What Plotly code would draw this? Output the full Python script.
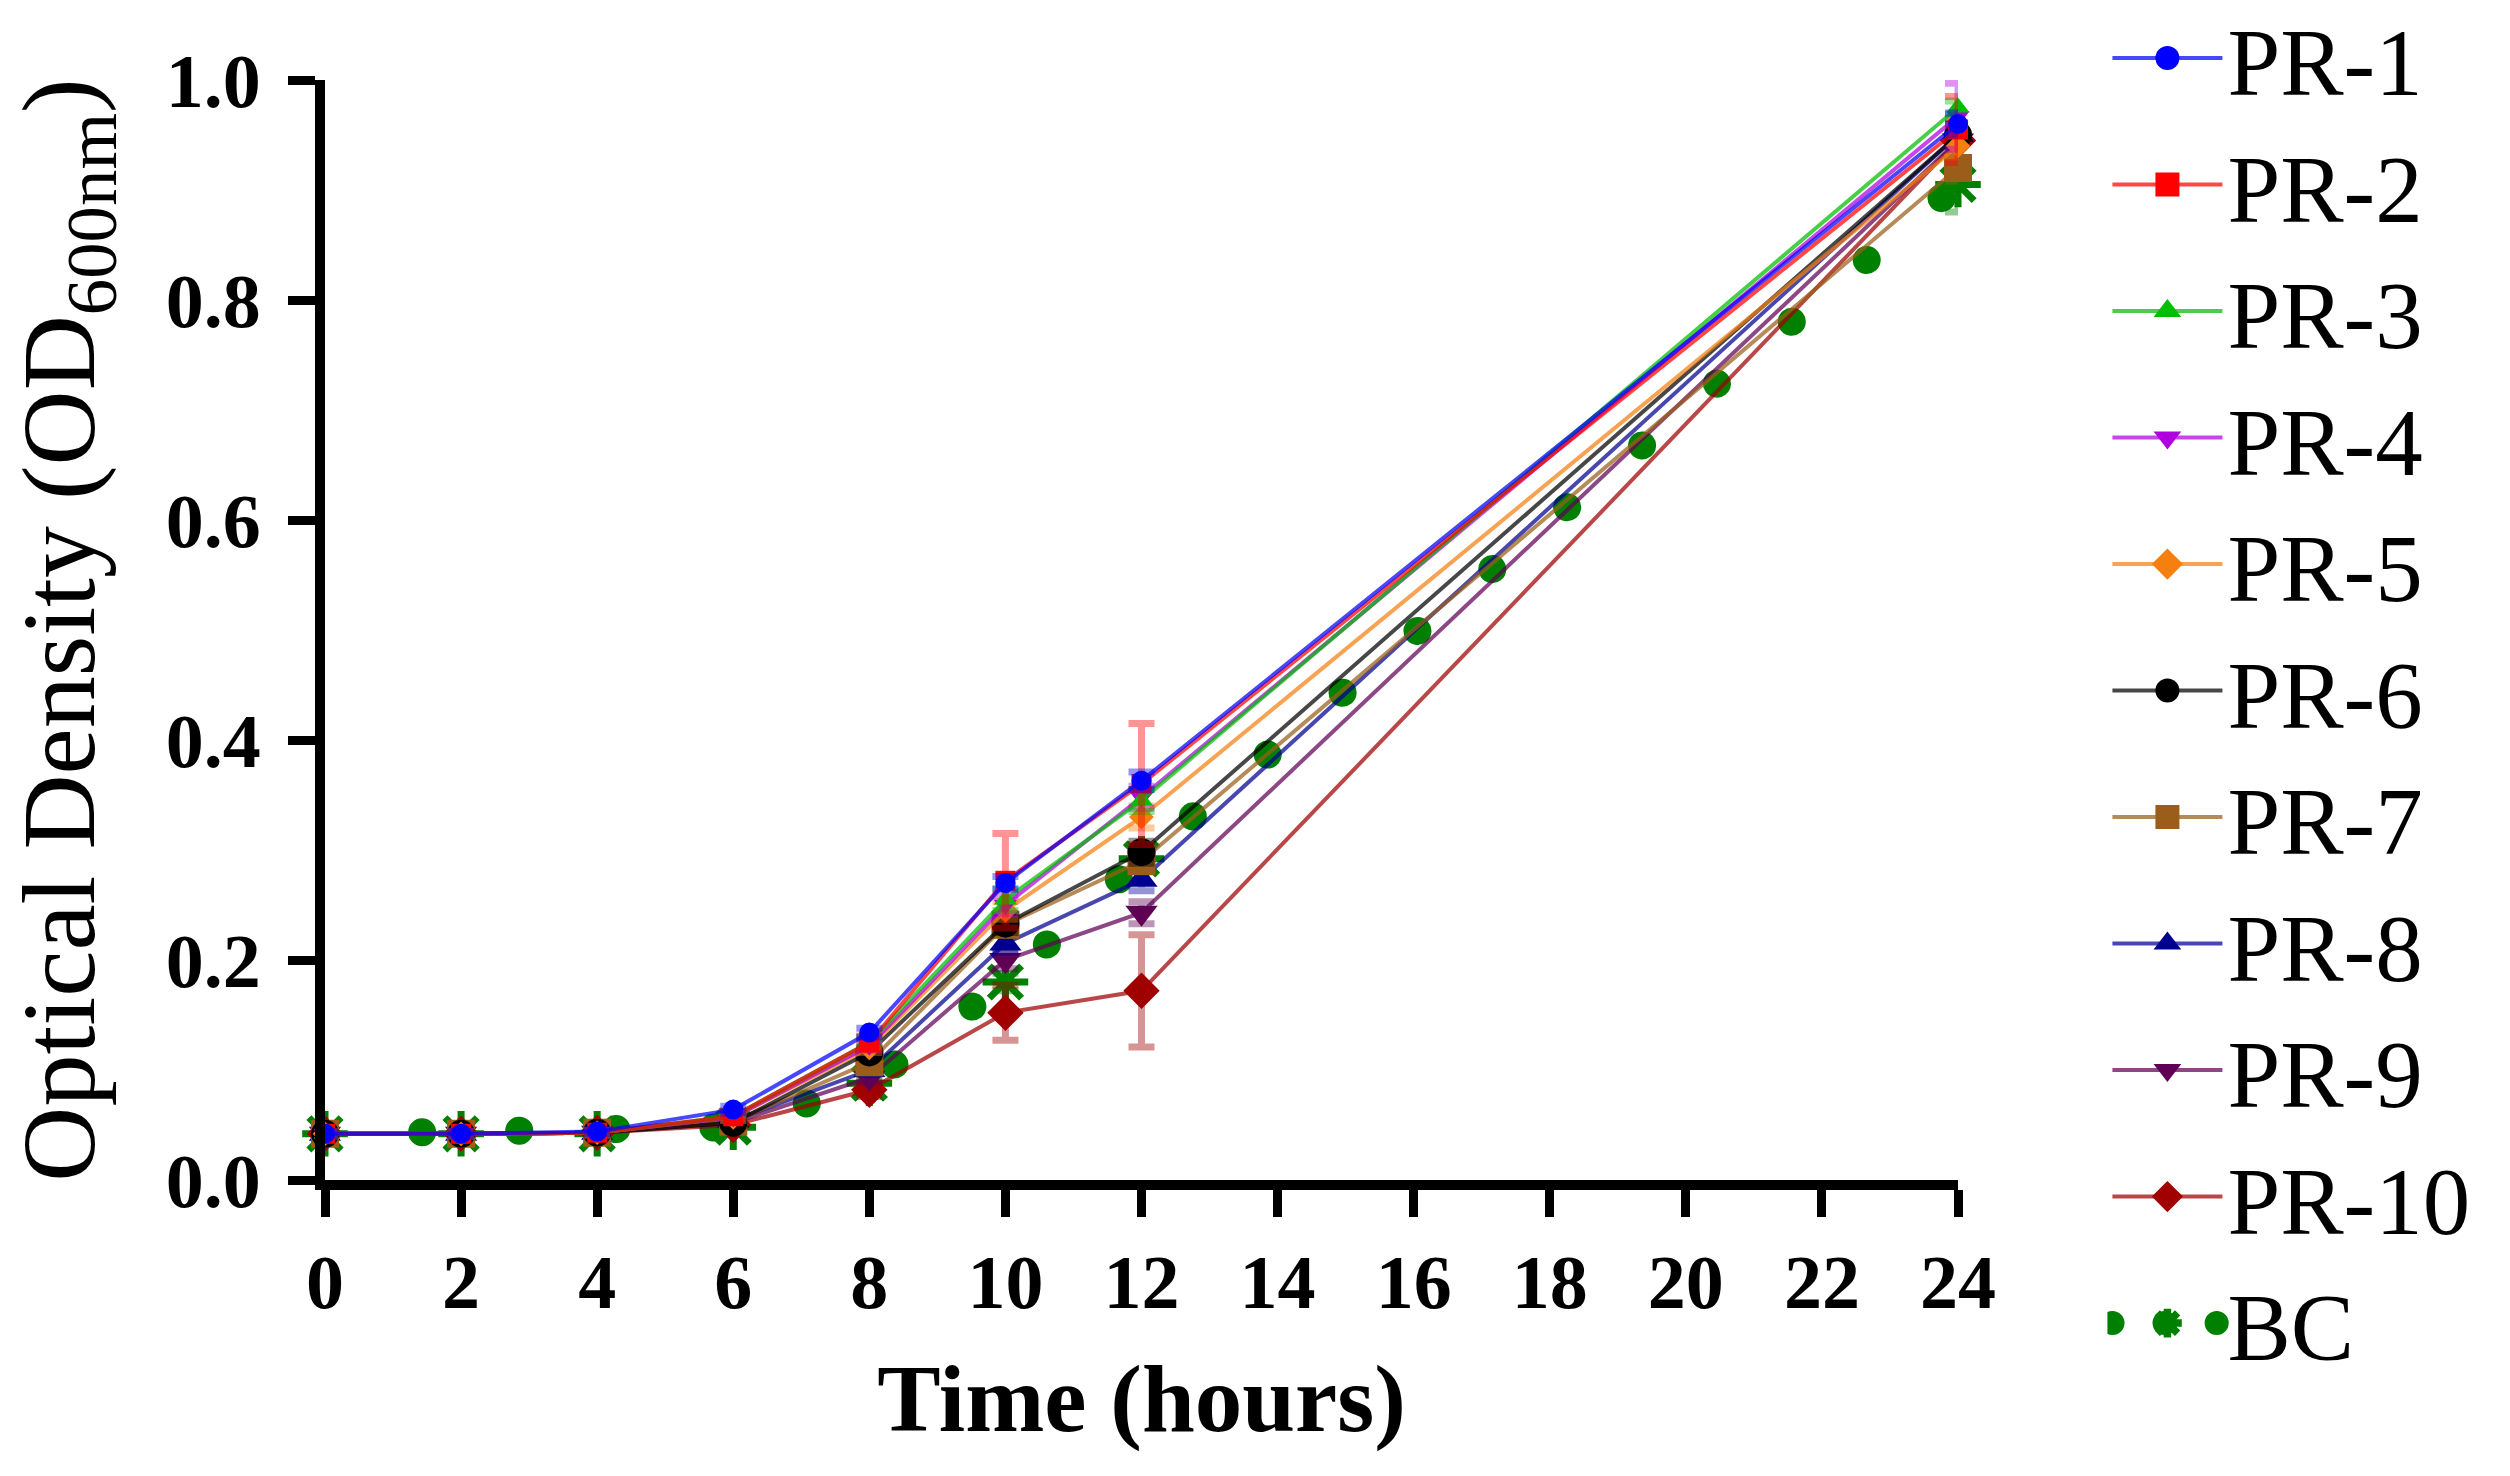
import plotly.graph_objects as go

# ---------------- data ----------------
hours = [0, 2, 4, 6, 8, 10, 12, 24]

series_names = ["PR-1", "PR-2", "PR-3", "PR-4", "PR-5",
                "PR-6", "PR-7", "PR-8", "PR-9", "PR-10", "BC"]

pr1 = [0.042, 0.042, 0.044, 0.064, 0.134, 0.270, 0.363, 0.960]
pr2 = [0.042, 0.042, 0.043, 0.058, 0.125, 0.272, 0.360, 0.955]
pr3 = [0.042, 0.042, 0.043, 0.058, 0.125, 0.255, 0.345, 0.975]
pr4 = [0.042, 0.042, 0.043, 0.057, 0.122, 0.250, 0.348, 0.967]
pr5 = [0.042, 0.042, 0.043, 0.057, 0.120, 0.245, 0.330, 0.940]
pr6 = [0.042, 0.042, 0.043, 0.052, 0.116, 0.233, 0.298, 0.950]
pr7 = [0.042, 0.042, 0.043, 0.053, 0.107, 0.232, 0.290, 0.920]
pr8 = [0.042, 0.042, 0.043, 0.054, 0.100, 0.215, 0.273, 0.950]
pr9 = [0.042, 0.042, 0.043, 0.052, 0.093, 0.200, 0.243, 0.945]
pr10 = [0.042, 0.042, 0.043, 0.050, 0.082, 0.152, 0.172, 0.945]
bc = [0.042, 0.042, 0.042, 0.048, 0.088, 0.180, 0.292, 0.905]

err_pr1 = [0.002, 0.002, 0.002, 0.003, 0.004, 0.006, 0.008, 0.010]
err_pr2 = [0.002, 0.002, 0.002, 0.004, 0.006, 0.043, 0.055, 0.030]
err_pr3 = [0.002, 0.002, 0.002, 0.003, 0.004, 0.010, 0.010, 0.006]
err_pr4 = [0.002, 0.002, 0.002, 0.003, 0.004, 0.008, 0.010, 0.030]
err_pr5 = [0.002, 0.002, 0.002, 0.003, 0.004, 0.008, 0.010, 0.010]
err_pr6 = [0.002, 0.002, 0.002, 0.003, 0.004, 0.008, 0.010, 0.010]
err_pr7 = [0.002, 0.002, 0.002, 0.003, 0.004, 0.008, 0.010, 0.012]
err_pr8 = [0.002, 0.002, 0.002, 0.003, 0.004, 0.008, 0.010, 0.010]
err_pr9 = [0.002, 0.002, 0.002, 0.003, 0.004, 0.008, 0.010, 0.010]
err_pr10 = [0.002, 0.002, 0.002, 0.003, 0.006, 0.025, 0.051, 0.020]
err_bc = [0.002, 0.002, 0.002, 0.003, 0.005, 0.008, 0.010, 0.025]

x_ticks = [0, 2, 4, 6, 8, 10, 12, 14, 16, 18, 20, 22, 24]
y_ticks = [0.0, 0.2, 0.4, 0.6, 0.8, 1.0]

# ---------------- styles ----------------
values = [pr1, pr2, pr3, pr4, pr5, pr6, pr7, pr8, pr9, pr10, bc]
errors = [err_pr1, err_pr2, err_pr3, err_pr4, err_pr5, err_pr6, err_pr7,
          err_pr8, err_pr9, err_pr10, err_bc]
colors = [(0, 0, 255), (255, 0, 0), (0, 190, 0), (176, 0, 224), (245, 128, 16),
          (0, 0, 0), (154, 94, 26), (0, 0, 144), (96, 0, 84), (160, 0, 0),
          (0, 128, 0)]
symbols = ["circle", "square", "triangle-up", "triangle-down", "diamond",
           "circle", "square", "triangle-up", "triangle-down", "diamond",
           "asterisk-open"]
msizes = [20, 20, 20, 20, 19, 28, 28, 28, 28, 28, 38]

SERIF = "Liberation Serif"


def rgba(c, a):
    return "rgba(%d,%d,%d,%.2f)" % (c[0], c[1], c[2], a)


fig = go.Figure()

# draw BC first (bottom), then PR-10 ... PR-1 so PR-1 is on top
for i in reversed(range(len(series_names))):
    c = colors[i]
    is_bc = series_names[i] == "BC"
    if is_bc:
        line = dict(color=rgba(c, 1.0), width=28, dash="dot")
        marker = dict(symbol=symbols[i], size=msizes[i], color=rgba(c, 1.0),
                      line=dict(color=rgba(c, 1.0), width=7))
    else:
        line = dict(color=rgba(c, 0.72), width=4)
        marker = dict(symbol=symbols[i], size=msizes[i], color=rgba(c, 1.0),
                      line=dict(width=0))
    fig.add_trace(go.Scatter(
        x=hours, y=values[i], name=series_names[i], mode="lines+markers",
        line=line, marker=marker, cliponaxis=False,
        error_y=dict(type="data", array=errors[i], visible=True,
                     color=rgba(c, 0.42), thickness=7, width=13),
    ))

fig.update_layout(
    width=2510, height=1476,
    paper_bgcolor="white", plot_bgcolor="white",
    margin=dict(l=325, r=552, t=80, b=296, autoexpand=False),
    font=dict(family=SERIF, color="black"),
    showlegend=True,
    legend=dict(
        traceorder="reversed",
        x=1.0915, xanchor="left", y=1.082, yanchor="top",
        font=dict(family=SERIF, size=95, color="black"),
        itemwidth=110, bgcolor="rgba(0,0,0,0)", borderwidth=0,
        itemsizing="trace", maxheight=1470,
    ),
)

fig.update_xaxes(
    range=[0, 24], tickmode="array", tickvals=x_ticks,
    ticktext=[str(t) for t in x_ticks],
    showline=True, linecolor="black", linewidth=10,
    ticks="outside", ticklen=27, tickwidth=9, tickcolor="black",
    showgrid=False, zeroline=False, automargin=False,
    tickfont=dict(family=SERIF, size=76, color="black", weight="bold"),
    title=dict(text="Time (hours)", standoff=45,
               font=dict(family=SERIF, size=95, color="black", weight="bold")),
)
fig.update_yaxes(
    range=[0, 1.0], tickmode="array", tickvals=y_ticks,
    ticktext=["%.1f" % t for t in y_ticks],
    showline=True, linecolor="black", linewidth=10,
    ticks="outside", ticklen=27, tickwidth=9, tickcolor="black",
    showgrid=False, zeroline=False, automargin=False,
    ticklabelstandoff=12,
    tickfont=dict(family=SERIF, size=76, color="black", weight="bold"),
    title=dict(text="Optical Density (OD<sub>600nm</sub>)", standoff=40,
               font=dict(family=SERIF, size=104, color="black")),
)

post = """
document.body.style.margin = '0';
document.body.style.overflow = 'hidden';
var gd = document.getElementById('{plot_id}');
function fixBC(){
  var traces = gd.querySelectorAll('.scatterlayer .trace');
  if (traces.length) {
    traces[0].querySelectorAll('path.js-line').forEach(function(p){
      p.style.strokeLinecap = 'round';
      p.style.strokeDasharray = '0.1px,97px';
    });
  }
  gd.querySelectorAll('.legend .traces').forEach(function(t){
    t.querySelectorAll('.legendpoints path.scatterpts').forEach(function(p){
      var base = p.getAttribute('data-basetf');
      if (base === null) {
        base = p.getAttribute('transform') || '';
        p.setAttribute('data-basetf', base);
      }
      p.setAttribute('transform', base + ' scale(1.5)');
    });
    var txt = t.querySelector('.legendtext');
    if (txt && txt.textContent === 'BC') {
      t.querySelectorAll('.legendlines path').forEach(function(p){
        p.style.strokeLinecap = 'round';
        p.style.strokeWidth = '24px';
        p.style.strokeDasharray = '0.1px,52px';
        p.style.strokeDashoffset = '0px';
      });
    }
  });
}
fixBC();
setTimeout(fixBC, 50);
setTimeout(fixBC, 300);
if (gd.on) { gd.on('plotly_afterplot', fixBC); }
"""

fig.write_html("out.html", post_script=post,
               config={"displayModeBar": False, "responsive": False})
